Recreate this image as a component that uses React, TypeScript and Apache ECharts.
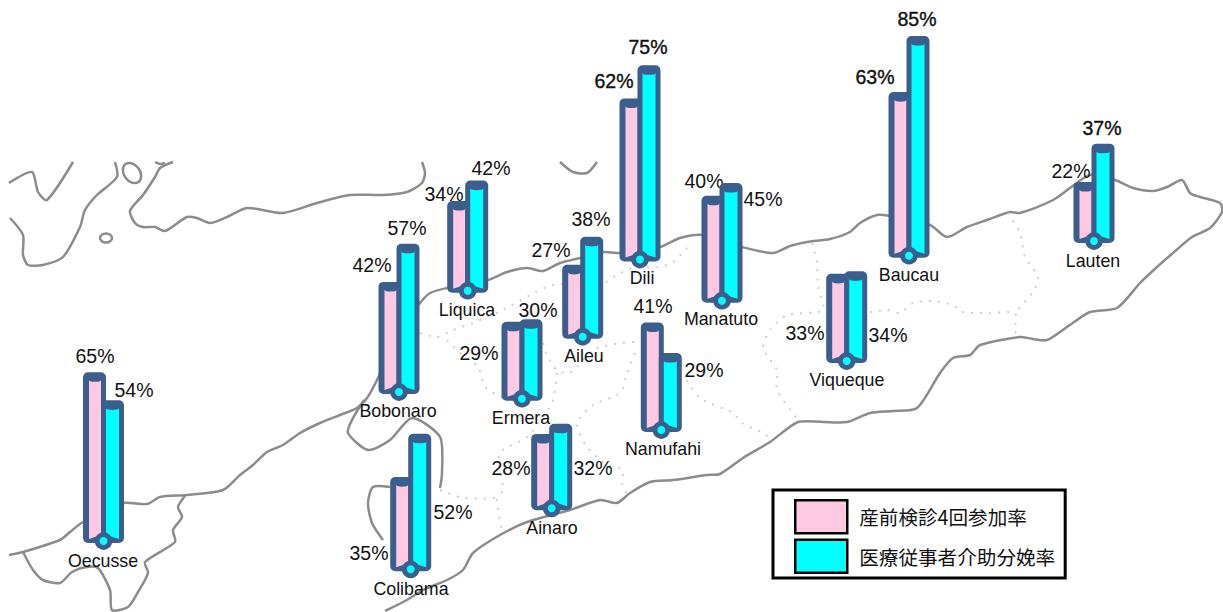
import React, { useEffect, useRef } from "react";
import * as echarts from "echarts";

// Coverage by district, in percent
const districts = ["Oecusse", "Bobonaro", "Colibama", "Liquica", "Ermera", "Aileu", "Ainaro", "Dili", "Namufahi", "Manatuto", "Viqueque", "Baucau", "Lauten"];
const antenatalVisits = [65, 42, 35, 34, 29, 27, 28, 62, 41, 40, 33, 63, 22];
const skilledDelivery = [54, 57, 52, 42, 30, 38, 32, 75, 29, 45, 34, 85, 37];
const seriesNames = ["産前検診4回参加率", "医療従事者介助分娩率"];

// Where each district's pair of columns stands on the map
const anchorX = [103.5, 399, 410.7, 467.7, 522, 582.7, 551.7, 640, 661.3, 722, 846.7, 909, 1094];
const anchorY = [541, 392, 569.3, 290.7, 398.7, 336.7, 508.3, 259.5, 430, 300.7, 361, 255.7, 241];

// Label centres
const nameX = [103, 398, 411, 467, 521, 584, 552, 642, 663, 721, 847, 909, 1093];
const nameY = [561, 411, 589, 310, 418, 356, 528, 278, 449, 319, 380, 275, 261];
const antenatalLabelX = [95, 372, 369, 444, 479, 551, 511, 614, 653, 704, 805, 875, 1071];
const antenatalLabelY = [356, 265, 553, 194, 353, 250, 468, 81, 306, 181, 333, 77, 171];
const deliveryLabelX = [134, 407, 453, 491, 538, 591, 593, 648, 704, 763, 888, 917, 1102];
const deliveryLabelY = [390, 228, 512, 168, 310, 219, 468, 47, 370, 199, 335, 19, 128];
const heavyLabels = ["Dili", "Baucau"];

// Land outlines
const coastlines: number[][][] = [
  [[9, 555], [23, 552], [60, 540], [70, 532], [83, 522], [123, 503], [147, 504], [160, 497], [187, 495], [223, 490], [240, 475], [253, 465], [267, 452], [283, 445], [300, 433], [320, 423], [340, 415], [357, 408], [367, 398], [377, 380], [400, 330], [420, 303], [430, 293], [447, 288], [488, 280], [507, 272], [527, 268], [543, 271], [560, 263], [580, 258], [603, 252], [620, 253], [660, 247], [680, 238], [703, 235], [742, 247], [773, 253], [790, 246], [807, 242], [830, 239], [850, 232], [860, 223], [877, 215], [890, 216], [930, 225], [947, 237], [967, 227], [987, 220], [1010, 212], [1020, 213], [1053, 200], [1070, 188], [1090, 175], [1115, 180], [1133, 188], [1153, 191], [1167, 187], [1182, 180], [1190, 193], [1200, 197], [1220, 203], [1222, 212], [1210, 228], [1192, 237], [1173, 253], [1157, 267], [1140, 283], [1117, 308], [1090, 312], [1067, 327], [1047, 340], [1033, 339], [1020, 337], [980, 345], [970, 355], [953, 358], [940, 373], [917, 408], [893, 411], [870, 413], [847, 422], [823, 422], [798, 422], [770, 442], [743, 458], [720, 474], [707, 475], [673, 480], [650, 482], [630, 493], [617, 503], [600, 500], [570, 510], [527, 522], [500, 535], [473, 553], [463, 570], [447, 580], [423, 590], [407, 600], [385, 611]],
  [[23, 552], [33, 570], [43, 580], [60, 583], [72, 572], [87, 567], [98, 568], [110, 590], [112, 610], [128, 607], [138, 592], [148, 573], [145, 562], [175, 542], [173, 530], [182, 517], [178, 507], [185, 496]],
  [[9, 183], [32, 172], [38, 192], [47, 200], [73, 162]],
  [[115, 162], [117, 177], [97, 195], [85, 210], [80, 227], [63, 257], [43, 265], [28, 265], [23, 255], [23, 235], [10, 218]],
  [[173, 162], [160, 168], [155, 177], [143, 195], [130, 211], [135, 223], [143, 227], [155, 227], [165, 231], [187, 217], [197, 218], [210, 223], [227, 217], [247, 208], [283, 213], [317, 203], [350, 195], [383, 195], [407, 192], [422, 183], [425, 173], [422, 162]],
  [[560, 162], [573, 172], [587, 173], [597, 162]],
  [[155, 162], [160, 164], [165, 163]],
  [[364, 400], [352, 420], [348, 433], [368, 450], [390, 440], [412, 418], [440, 437], [442, 473], [440, 488]],
  [[390, 487], [373, 487], [368, 503], [372, 523], [383, 540]],
];
const districtBorders: number[][][] = [
  [[420, 333], [437, 337], [453, 330], [473, 323], [503, 310], [530, 295], [553, 285], [603, 283], [617, 275], [633, 268], [660, 267], [673, 262], [687, 248]],
  [[447, 340], [460, 353], [478, 367], [485, 387], [503, 398]],
  [[543, 343], [548, 357], [557, 370], [570, 373], [593, 350], [620, 343], [635, 342]],
  [[557, 373], [553, 400], [548, 410], [527, 437], [500, 452], [500, 470], [503, 490], [497, 500], [502, 530]],
  [[440, 490], [463, 498], [497, 498]],
  [[635, 353], [627, 373], [620, 393], [593, 405], [577, 423], [587, 447], [607, 465], [623, 470], [622, 483], [627, 495]],
  [[687, 380], [700, 398], [733, 413], [742, 423], [763, 433], [772, 440]],
  [[812, 243], [817, 263], [818, 287], [823, 310], [787, 315], [770, 330], [763, 348], [777, 370], [777, 390], [798, 420]],
  [[870, 312], [887, 310], [900, 313], [913, 303], [933, 301], [953, 305], [963, 312], [990, 313], [1015, 313], [1015, 330], [1017, 337]],
  [[1008, 213], [1020, 233], [1025, 257], [1038, 277], [1033, 292], [1015, 313]],
];

const WIDTH = 1223;
const HEIGHT = 612;
const PX_PER_PERCENT = 2.55;
const levelOf = (py: number) => (HEIGHT - py) / PX_PER_PERCENT;

const FRAME = "#3B5E8C";
const PINK = "#FFC9E3";
const CYAN = "#00FFFF";
const TEXT = "#111111";
const COAST = "#8C8C8C";
const SANS = '"Liberation Sans", Arial, sans-serif';

// One column of a pair: a rounded frame, a fill and a shallow cap at the top.
function columnRenderer(side: -1 | 1, fill: string, labelX: number[], labelY: number[]) {
  return (_params: any, api: any) => {
    const i = api.value(3);
    const [cx, baseY] = api.coord([api.value(0), api.value(1)]);
    const [, topY] = api.coord([api.value(0), api.value(1) + api.value(2)]);
    const outerL = side < 0 ? cx - 20.5 : cx - 2.5;
    const innerL = side < 0 ? cx - 14.5 : cx + 2.5;
    const innerW = side < 0 ? 12 : 13;
    const innerR = innerL + innerW;
    const outerTop = topY - 3;
    const innerTop = outerTop + 8;
    const innerBottom = baseY - 2;
    const innerMid = innerL + innerW / 2;
    const heavy = heavyLabels.includes(districts[i]) || (districts[i] === "Lauten" && side > 0);
    return {
      type: "group",
      children: [
        {
          type: "rect",
          shape: { x: outerL, y: outerTop, width: 23, height: baseY + 2 - outerTop, r: 5 },
          style: { fill: FRAME },
        },
        {
          type: "polygon",
          shape: {
            // the floor tilts up towards the ring at the foot
            points: [
              [innerL, innerTop],
              [innerR, innerTop],
              [innerR, side < 0 ? innerBottom - 4 : innerBottom],
              [innerL, side < 0 ? innerBottom : innerBottom - 4],
            ],
          },
          style: { fill },
        },
        {
          type: "ellipse",
          shape: { cx: innerMid, cy: innerTop, rx: innerW / 2, ry: 1.6 },
          style: { fill: FRAME },
        },
        {
          type: "text",
          style: {
            text: `${api.value(2)}%`,
            x: labelX[i],
            y: labelY[i],
            align: "center",
            verticalAlign: "middle",
            fill: TEXT,
            fontFamily: SANS,
            fontSize: 19.5,
            stroke: heavy ? TEXT : undefined,
            lineWidth: heavy ? 0.4 : 0,
          },
        },
      ],
    };
  };
}

// The ring at the foot of each pair, with the district's name beneath it.
function footRenderer(_params: any, api: any) {
  const i = api.value(2);
  const [cx, cy] = api.coord([api.value(0), api.value(1)]);
  return {
    type: "group",
    children: [
      {
        type: "circle",
        shape: { cx, cy, r: 6.4 },
        style: { fill: CYAN, stroke: FRAME, lineWidth: 4.8 },
      },
      {
        type: "text",
        style: {
          text: districts[i],
          x: nameX[i],
          y: nameY[i],
          align: "center",
          verticalAlign: "middle",
          fill: TEXT,
          fontFamily: SANS,
          fontSize: 17.8,
        },
      },
    ],
  };
}

const columnData = (values: number[]) =>
  values.map((v, i) => [anchorX[i], levelOf(anchorY[i]), v, i]);

export default function App() {
  const ref = useRef<HTMLDivElement>(null);

  useEffect(() => {
    if (!ref.current) return;
    const chart = echarts.init(ref.current, undefined, { renderer: "svg" });
    chart.setOption({
      animation: false,
      backgroundColor: "#ffffff",
      grid: { left: 0, right: 0, top: 0, bottom: 0 },
      xAxis: { type: "value", min: 0, max: WIDTH, show: false },
      yAxis: { type: "value", min: 0, max: HEIGHT / PX_PER_PERCENT, show: false },
      legend: {
        left: 773,
        top: 490,
        orient: "vertical",
        padding: [9, 10, 4, 21],
        itemGap: 4,
        itemWidth: 52,
        itemHeight: 33,
        backgroundColor: "#ffffff",
        borderColor: "#000000",
        borderWidth: 3,
        textStyle: {
          color: TEXT,
          fontFamily: '"Noto Sans CJK JP", sans-serif',
          fontSize: 19.6,
          padding: [0, 0, 0, 7],
        },
        data: [
          { name: seriesNames[0], icon: "rect", itemStyle: { color: PINK, borderColor: "#000000", borderWidth: 2.5 } },
          { name: seriesNames[1], icon: "rect", itemStyle: { color: CYAN, borderColor: "#000000", borderWidth: 2.5 } },
        ],
      },
      graphic: {
        elements: [
          ...coastlines.map((points) => ({
            type: "polyline",
            silent: true,
            shape: { points, smooth: 0.25 },
            style: { stroke: COAST, lineWidth: 2.5, fill: "none", lineJoin: "round" },
          })),
          ...districtBorders.map((points) => ({
            type: "polyline",
            silent: true,
            shape: { points, smooth: 0.25 },
            style: { stroke: "#CFCFCF", lineWidth: 2, fill: "none", lineDash: [2, 7] },
          })),
          {
            type: "ellipse",
            silent: true,
            x: 132,
            y: 173,
            rotation: Math.PI / 5,
            shape: { cx: 0, cy: 0, rx: 8, ry: 11 },
            style: { stroke: COAST, lineWidth: 2.5, fill: "none" },
          },
          {
            type: "ellipse",
            silent: true,
            shape: { cx: 106, cy: 238, rx: 6, ry: 4.5 },
            style: { stroke: COAST, lineWidth: 2.5, fill: "none" },
          },
        ],
      },
      series: [
        {
          name: seriesNames[0],
          type: "custom",
          coordinateSystem: "cartesian2d",
          itemStyle: { color: PINK },
          clip: false,
          data: columnData(antenatalVisits),
          renderItem: columnRenderer(-1, PINK, antenatalLabelX, antenatalLabelY),
          z: 3,
        },
        {
          name: seriesNames[1],
          type: "custom",
          coordinateSystem: "cartesian2d",
          itemStyle: { color: CYAN },
          clip: false,
          data: columnData(skilledDelivery),
          renderItem: columnRenderer(1, CYAN, deliveryLabelX, deliveryLabelY),
          z: 4,
        },
        {
          name: "foot",
          type: "custom",
          coordinateSystem: "cartesian2d",
          clip: false,
          data: districts.map((_, i) => [anchorX[i], levelOf(anchorY[i]), i]),
          renderItem: footRenderer,
          z: 5,
        },
      ],
    });
    return () => chart.dispose();
  }, []);

  return (
    <div
      ref={ref}
      style={{ position: "absolute", left: 0, top: 0, width: WIDTH, height: HEIGHT }}
    />
  );
}
